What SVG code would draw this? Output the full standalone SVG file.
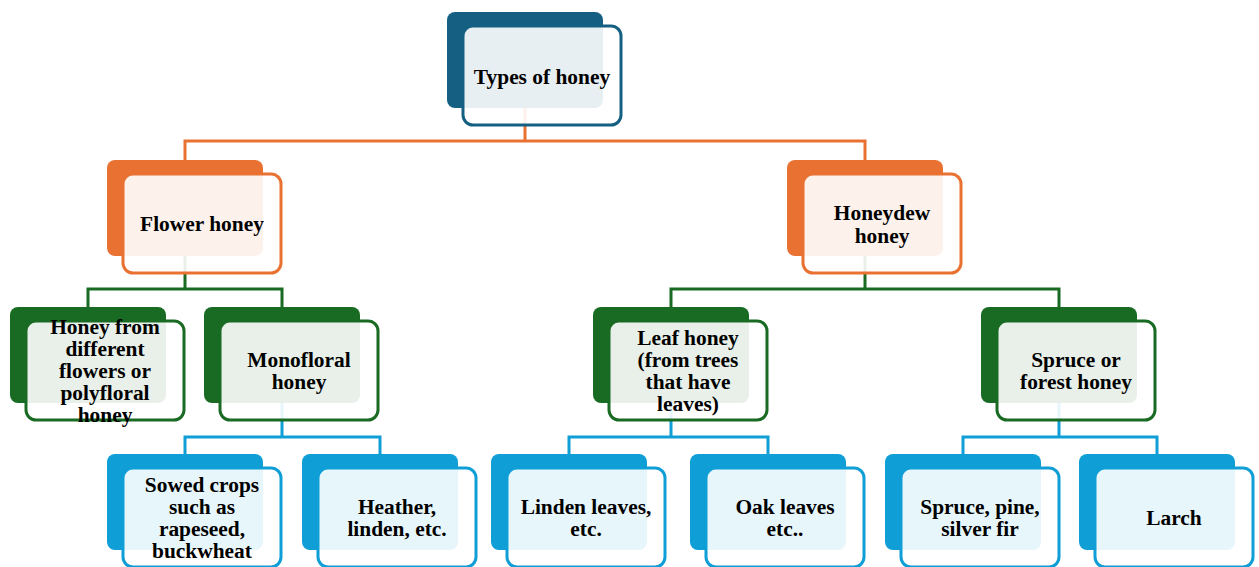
<svg xmlns="http://www.w3.org/2000/svg" width="1259" height="567" viewBox="0 0 1259 567">
<style>
.bk{stroke:none}
.fr{fill:#fff;fill-opacity:0.9;stroke-width:3}
.t{font-family:"Liberation Serif","Times New Roman",serif;font-weight:bold;font-size:21.4px;text-anchor:middle;fill:#000}
.c{fill:none;stroke-width:3}
.db .bk{fill:#156082}.db .fr{stroke:#156082}
.or .bk{fill:#E97132}.or .fr{stroke:#E97132}
.gr .bk{fill:#196B24}.gr .fr{stroke:#196B24}
.bl .bk{fill:#0F9ED5}.bl .fr{stroke:#0F9ED5}
</style>
<rect width="1259" height="567" fill="#fff"/>
<g id="connectors">
<path class="c" stroke="#E97132" d="M525 108V141M185 160V141H865V160"/>
<path class="c" stroke="#196B24" d="M185 256V289M88 307V289H282V307M865 256V289M671 307V289H1059V307"/>
<path class="c" stroke="#0F9ED5" d="M282 403V437M185 454V437H380V454M671 403V437M569 454V437H768V454M1059 403V437M963 454V437H1157V454"/>
</g>
<g id="types" class="db">
<rect class="bk" x="447" y="12" width="156" height="96" rx="8"/>
<rect class="fr" x="463" y="26" width="158" height="99" rx="10"/>
<text class="t" x="542" y="84">Types of honey</text>
</g>
<g id="flower" class="or">
<rect class="bk" x="107" y="160" width="156" height="96" rx="8"/>
<rect class="fr" x="123" y="174" width="158" height="99" rx="10"/>
<text class="t" x="202" y="231">Flower honey</text>
</g>
<g id="honeydew" class="or">
<rect class="bk" x="787" y="160" width="156" height="96" rx="8"/>
<rect class="fr" x="803" y="174" width="158" height="99" rx="10"/>
<text class="t" x="882" y="220">Honeydew</text>
<text class="t" x="882" y="243">honey</text>
</g>
<g id="polyfloral" class="gr">
<rect class="bk" x="10" y="307" width="156" height="96" rx="8"/>
<rect class="fr" x="26" y="321" width="158" height="99" rx="10"/>
<text class="t" x="105" y="334">Honey from</text>
<text class="t" x="105" y="356">different</text>
<text class="t" x="105" y="378">flowers or</text>
<text class="t" x="105" y="400">polyfloral</text>
<text class="t" x="105" y="422">honey</text>
</g>
<g id="monofloral" class="gr">
<rect class="bk" x="204" y="307" width="156" height="96" rx="8"/>
<rect class="fr" x="220" y="321" width="158" height="99" rx="10"/>
<text class="t" x="299" y="367">Monofloral</text>
<text class="t" x="299" y="389">honey</text>
</g>
<g id="leaf" class="gr">
<rect class="bk" x="593" y="307" width="156" height="96" rx="8"/>
<rect class="fr" x="609" y="321" width="158" height="99" rx="10"/>
<text class="t" x="688" y="345">Leaf honey</text>
<text class="t" x="688" y="367">(from trees</text>
<text class="t" x="688" y="389">that have</text>
<text class="t" x="688" y="411">leaves)</text>
</g>
<g id="spruceforest" class="gr">
<rect class="bk" x="981" y="307" width="156" height="96" rx="8"/>
<rect class="fr" x="997" y="321" width="158" height="99" rx="10"/>
<text class="t" x="1076" y="367">Spruce or</text>
<text class="t" x="1076" y="389">forest honey</text>
</g>
<g id="sowed" class="bl">
<rect class="bk" x="107" y="454" width="156" height="96" rx="8"/>
<rect class="fr" x="123" y="468" width="158" height="99" rx="10"/>
<text class="t" x="202" y="492">Sowed crops</text>
<text class="t" x="202" y="514">such as</text>
<text class="t" x="202" y="536">rapeseed,</text>
<text class="t" x="202" y="558">buckwheat</text>
</g>
<g id="heather" class="bl">
<rect class="bk" x="302" y="454" width="156" height="96" rx="8"/>
<rect class="fr" x="318" y="468" width="158" height="99" rx="10"/>
<text class="t" x="397" y="514">Heather,</text>
<text class="t" x="397" y="536">linden, etc.</text>
</g>
<g id="linden" class="bl">
<rect class="bk" x="491" y="454" width="156" height="96" rx="8"/>
<rect class="fr" x="507" y="468" width="158" height="99" rx="10"/>
<text class="t" x="586" y="514">Linden leaves,</text>
<text class="t" x="586" y="536">etc.</text>
</g>
<g id="oak" class="bl">
<rect class="bk" x="690" y="454" width="156" height="96" rx="8"/>
<rect class="fr" x="706" y="468" width="158" height="99" rx="10"/>
<text class="t" x="785" y="514">Oak leaves</text>
<text class="t" x="785" y="536">etc..</text>
</g>
<g id="sprucepine" class="bl">
<rect class="bk" x="885" y="454" width="156" height="96" rx="8"/>
<rect class="fr" x="901" y="468" width="158" height="99" rx="10"/>
<text class="t" x="980" y="514">Spruce, pine,</text>
<text class="t" x="980" y="536">silver fir</text>
</g>
<g id="larch" class="bl">
<rect class="bk" x="1079" y="454" width="156" height="96" rx="8"/>
<rect class="fr" x="1095" y="468" width="158" height="99" rx="10"/>
<text class="t" x="1174" y="525">Larch</text>
</g>
</svg>
